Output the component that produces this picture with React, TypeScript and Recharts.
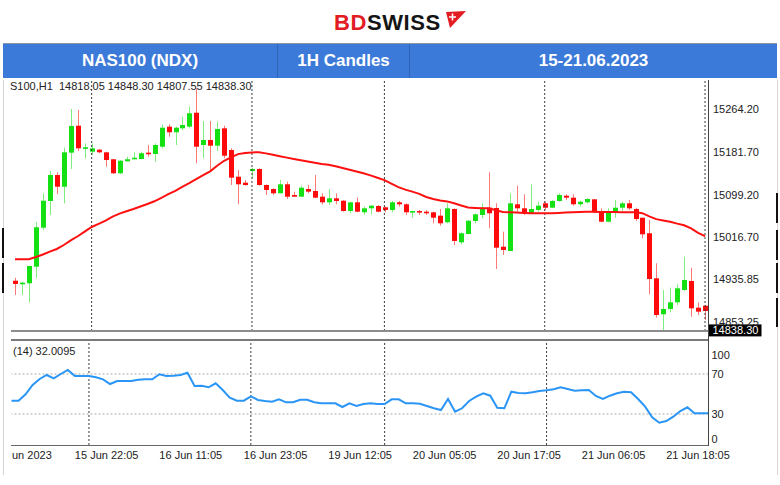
import React from "react";
import { ComposedChart, Bar, Line, XAxis, YAxis, ReferenceLine } from "recharts";

const FONT = "'Liberation Sans', Arial, sans-serif";

// NAS100 H1 candles, 15-21 Jun 2023
const opens = [
  14932.5, 14926.2, 14927.5, 14959.6, 15035.1, 15086.8, 15137.1, 15114.4, 15180.3, 15232.5,
  15188.7, 15182.2, 15186.0, 15181.0, 15167.5, 15140.4, 15163.6, 15168.0, 15168.0, 15180.3,
  15177.7, 15191.8, 15230.6, 15219.7, 15227.4, 15230.6, 15257.6, 15195.1, 15204.8, 15193.8,
  15227.4, 15185.4, 15133.8, 15122.2, 15144.8, 15148.7, 15117.7, 15110.0, 15101.7, 15119.1,
  15098.4, 15095.1, 15110.0, 15106.1, 15095.1, 15084.2, 15092.0, 15087.3, 15067.4, 15084.2,
  15064.9, 15072.6, 15077.1, 15074.6, 15069.4, 15084.2, 15080.4, 15064.9, 15067.4, 15066.1,
  15064.9, 15058.4, 15045.6, 15071.3, 15006.8, 15022.9, 15048.1, 15059.7, 15073.8, 15073.2,
  14998.3, 14990.0, 15080.4, 15072.6, 15063.0, 15069.4, 15082.3, 15073.8, 15086.8, 15097.0,
  15093.2, 15080.4, 15084.2, 15090.0, 15066.1, 15046.7, 15064.9, 15073.8, 15082.3, 15071.3,
  15054.4, 15024.3, 14937.2, 14867.5, 14877.8, 14890.7, 14914.6, 14932.0, 14880.3, 14884.1,
];
const highs = [
  14938.3, 14930.6, 14961.6, 15046.7, 15101.7, 15144.8, 15142.3, 15189.9, 15264.8, 15262.9,
  15198.4, 15198.4, 15187.4, 15182.2, 15168.0, 15166.1, 15172.5, 15181.0, 15182.2, 15195.1,
  15198.4, 15235.2, 15235.2, 15230.6, 15249.9, 15269.2, 15304.8, 15241.6, 15241.6, 15240.2,
  15232.5, 15188.7, 15146.8, 15127.4, 15151.2, 15150.1, 15119.1, 15111.3, 15127.4, 15124.1,
  15104.8, 15116.4, 15117.7, 15137.1, 15101.7, 15110.0, 15101.7, 15088.7, 15085.4, 15093.2,
  15075.8, 15079.0, 15079.0, 15075.8, 15086.8, 15086.8, 15082.3, 15067.4, 15069.4, 15069.4,
  15066.1, 15071.3, 15082.3, 15072.6, 15026.2, 15050.0, 15063.0, 15082.3, 15142.3, 15082.3,
  15027.4, 15101.7, 15116.4, 15099.7, 15119.1, 15085.4, 15085.4, 15088.7, 15101.7, 15099.7,
  15099.7, 15086.8, 15092.0, 15090.6, 15072.6, 15072.6, 15088.7, 15085.4, 15088.7, 15073.8,
  15054.4, 15050.0, 14966.2, 14914.6, 14919.0, 14925.6, 14979.0, 14957.7, 14890.7, 14885.5,
];
const lows = [
  14904.9, 14904.9, 14890.7, 14937.2, 15030.7, 15059.7, 15100.3, 15082.3, 15148.7, 15183.5,
  15169.4, 15175.8, 15179.1, 15153.1, 15139.0, 15139.0, 15162.8, 15167.5, 15167.5, 15172.5,
  15162.8, 15188.7, 15211.2, 15195.1, 15224.2, 15227.4, 15159.7, 15169.4, 15146.8, 15183.5,
  15169.4, 15117.7, 15080.4, 15116.4, 15130.7, 15116.4, 15098.4, 15098.4, 15101.7, 15090.6,
  15095.1, 15095.1, 15101.7, 15092.0, 15080.4, 15079.0, 15080.4, 15066.1, 15063.0, 15064.9,
  15059.7, 15061.0, 15064.9, 15064.9, 15064.9, 15075.8, 15059.7, 15054.4, 15059.7, 15059.7,
  15043.6, 15039.0, 15043.6, 15001.6, 15003.0, 15022.3, 15043.6, 15053.3, 15033.9, 14955.2,
  14982.3, 14990.0, 15066.1, 15059.7, 15063.0, 15066.1, 15069.4, 15073.8, 15085.4, 15088.7,
  15077.7, 15075.8, 15082.3, 15063.0, 15045.6, 15045.6, 15054.4, 15066.1, 15069.4, 15048.1,
  15014.6, 14906.2, 14861.0, 14832.7, 14871.4, 14885.5, 14912.6, 14862.9, 14866.2, 14856.5,
];
const closes = [
  14926.2, 14928.7, 14961.0, 15035.9, 15087.3, 15137.1, 15114.4, 15181.0, 15231.9, 15188.7,
  15190.7, 15188.7, 15181.0, 15166.1, 15140.4, 15164.7, 15167.5, 15170.5, 15179.1, 15178.4,
  15195.1, 15228.6, 15219.7, 15228.6, 15233.8, 15256.5, 15191.8, 15204.8, 15193.8, 15226.1,
  15174.4, 15131.9, 15119.1, 15117.7, 15148.7, 15117.7, 15108.1, 15101.7, 15119.1, 15095.1,
  15095.1, 15112.5, 15104.8, 15093.2, 15084.2, 15092.0, 15086.8, 15067.4, 15084.2, 15066.1,
  15072.6, 15077.7, 15066.1, 15069.4, 15084.2, 15080.4, 15064.9, 15067.4, 15064.9, 15063.6,
  15054.4, 15043.6, 15072.6, 15009.4, 15024.3, 15048.6, 15061.0, 15073.8, 15063.0, 14996.4,
  14991.9, 15082.3, 15072.6, 15063.0, 15071.3, 15077.7, 15073.8, 15086.8, 15098.4, 15093.2,
  15080.4, 15085.4, 15090.6, 15064.9, 15046.7, 15064.9, 15073.8, 15082.3, 15072.6, 15051.9,
  15022.3, 14935.8, 14866.2, 14877.8, 14890.7, 14917.8, 14933.9, 14879.1, 14872.6, 14873.9,
];
// moving average (red line)
const maValues = [
  14974.0, 14974.0, 14974.0, 14978.4, 14983.2, 14988.9, 14993.9, 15001.6, 15010.5, 15018.5,
  15027.5, 15036.5, 15042.6, 15048.8, 15056.6, 15062.4, 15067.0, 15071.3, 15076.1, 15080.9,
  15086.2, 15092.9, 15099.9, 15106.5, 15114.1, 15121.2, 15129.0, 15136.7, 15144.2, 15155.1,
  15164.6, 15171.3, 15177.5, 15179.6, 15180.8, 15181.0, 15178.9, 15176.2, 15173.4, 15170.7,
  15168.2, 15165.7, 15163.2, 15160.7, 15158.5, 15156.8, 15153.9, 15150.6, 15147.1, 15143.9,
  15140.6, 15136.3, 15131.7, 15127.2, 15120.4, 15113.7, 15108.8, 15104.9, 15100.5, 15094.5,
  15090.8, 15087.9, 15086.0, 15082.3, 15078.2, 15074.2, 15073.4, 15072.8, 15072.6, 15068.8,
  15065.5, 15064.9, 15064.3, 15063.6, 15063.0, 15063.0, 15063.0, 15063.0, 15063.7, 15064.5,
  15065.1, 15065.5, 15065.9, 15065.9, 15065.7, 15065.5, 15065.3, 15065.1, 15064.9, 15064.9,
  15063.2, 15057.0, 15051.7, 15049.2, 15046.5, 15043.0, 15039.7, 15033.7, 15025.2, 15018.6,
];
// RSI(14)
const rsiValues = [
  43.3, 43.3, 49.7, 59, 65, 69, 65.7, 70, 74, 68,
  68, 68, 66.7, 64.7, 60, 63, 63, 63, 64.3, 64.7,
  64.7, 69.7, 68, 68.3, 69, 71.3, 58, 58.3, 56.7, 60.7,
  54, 46.3, 43.3, 43.3, 47.7, 44, 43, 42.3, 44.7, 41.7,
  41.7, 44.3, 44.3, 41.7, 40.7, 40.7, 40.7, 37, 40.7, 38,
  40, 40.7, 40, 40, 44.7, 44.7, 40.7, 40.7, 40.3, 38,
  35.7, 34, 45, 32.3, 35.7, 43, 47.3, 50.7, 48.3, 36.3,
  35.7, 52.3, 51, 50.7, 51.7, 53, 53.7, 54.7, 56.7, 55,
  53.3, 53.7, 54, 48, 45, 48.3, 50.7, 52.3, 51.7, 45,
  37.3, 26.7, 21.3, 23, 27.3, 33, 36.7, 30.7, 30.7, 30.7,
];

const priceTicks = [15264.2, 15181.7, 15099.2, 15016.7, 14935.85, 14853.25];
const rsiTicks = [0, 30, 70, 100];
const rsiLevels = [30, 70];
const dayStarts = [11, 34, 53, 76, 99];
const timeTicks = [9, 21, 33, 45, 57, 69, 81, 93];
const timeLabels = [
  "15 Jun 22:05", "16 Jun 11:05", "16 Jun 23:05", "19 Jun 12:05",
  "20 Jun 05:05", "20 Jun 17:05", "21 Jun 06:05", "21 Jun 18:05",
];
const bidPrice = 14838.3;
// captions as far as they show at the left edge of the chart
const ohlcLine = "S100,H1  14818.05 14848.30 14807.55 14838.30";
const rsiTitle = "(14) 32.0095";
const firstDate = "un 2023";

const rows = opens.map((o, i) => ({
  i,
  o,
  h: highs[i],
  l: lows[i],
  c: closes[i],
  range: [lows[i], highs[i]],
  ma: maValues[i],
  rsi: rsiValues[i],
}));

function Candle(props: any) {
  const { x, y, width, height, payload } = props;
  if (x == null || y == null) return null;
  const { o, h, l, c } = payload;
  const top = Math.min(y, y + height);
  const span = Math.abs(height);
  const k = h === l ? 0 : span / (h - l);
  const cx = Math.round(x + width / 2) + 0.5;
  const bTop = top + (h - Math.max(o, c)) * k;
  const bBot = top + (h - Math.min(o, c)) * k;
  const color = c >= o ? "#14e014" : "#ff0a0a";
  return (
    <g>
      <line x1={cx} x2={cx} y1={top} y2={top + span} stroke={color} strokeOpacity={0.55} strokeWidth={1} />
      <rect x={cx - 2.5} y={bTop} width={5} height={Math.max(bBot - bTop, 1.6)} fill={color} />
    </g>
  );
}

const PriceTick = (p: any) => (
  <text x={p.x + 4.5} y={p.y} dy={4} fontSize={11} fill="#222" fontFamily={FONT}>
    {Number(p.payload.value).toFixed(2)}
  </text>
);

const RsiTick = (p: any) => {
  const v = p.payload.value;
  const dy = v === 100 ? 9 : v === 0 ? -1 : 4;
  return (
    <text x={p.x + 3} y={p.y} dy={dy} fontSize={11} fill="#222" fontFamily={FONT}>
      {v}
    </text>
  );
};

const TimeTick = (p: any) => {
  const idx = timeTicks.indexOf(p.payload.value);
  return (
    <text x={p.x} y={p.y} dy={14} fontSize={11} fill="#222" fontFamily={FONT} textAnchor="start">
      {timeLabels[idx]}
    </text>
  );
};

const BidLabel = (p: any) => {
  const vb = p.viewBox;
  if (!vb) return null;
  const bx = vb.x + vb.width;
  return (
    <g>
      <rect x={bx} y={vb.y - 5} width={53} height={12} fill="#000" />
      <text x={bx + 4} y={vb.y + 5} fontSize={11} fill="#fff" fontFamily={FONT}>
        {bidPrice.toFixed(2)}
      </text>
    </g>
  );
};

const line = (style: React.CSSProperties) => <div style={{ position: "absolute", ...style }} />;

const caption: React.CSSProperties = {
  position: "absolute",
  whiteSpace: "pre",
  fontSize: 11,
  lineHeight: "14px",
  color: "#222",
};

export default function App() {
  return (
    <div
      style={{
        position: "absolute",
        left: 0,
        top: 0,
        width: 780,
        height: 485,
        background: "#fff",
        overflow: "hidden",
        fontFamily: FONT,
      }}
    >
      {/* Logo */}
      <svg width={780} height={42} style={{ position: "absolute", left: 0, top: 0 }}>
        <text x={334} y={29.5} fontSize={22} fontWeight="bold" fontFamily={FONT} letterSpacing={0.6}>
          <tspan fill="#e31b23">BD</tspan>
          <tspan fill="#151515">SWISS</tspan>
        </text>
        <polygon points="446,12 466,11 450,28" fill="#e31b23" />
        <path d="M452.5 13.5 v7 M449 17 h7" stroke="#fff" strokeWidth={1.6} />
      </svg>

      {/* Header bar */}
      <div
        style={{
          position: "absolute",
          left: 3,
          top: 43,
          width: 774,
          height: 35,
          background: "#3c7ad9",
          borderTop: "1px solid #8a96a8",
          boxSizing: "border-box",
          color: "#fff",
          fontWeight: "bold",
          fontSize: 17,
        }}
      >
        {[
          { l: 0, w: 274, t: "NAS100 (NDX)" },
          { l: 274, w: 132, t: "1H Candles" },
          { l: 406, w: 368, t: "15-21.06.2023" },
        ].map((c, k) => (
          <div
            key={k}
            style={{
              position: "absolute",
              left: c.l,
              top: 0,
              width: c.w,
              height: 34,
              lineHeight: "34px",
              textAlign: "center",
              borderLeft: k ? "1px solid #2f63b5" : "none",
              boxSizing: "border-box",
            }}
          >
            {c.t}
          </div>
        ))}
      </div>

      {/* Price panel */}
      <div style={{ position: "absolute", left: 0, top: 80 }}>
        <ComposedChart width={780} height={260} data={rows} margin={{ top: 0, right: 0, bottom: 9, left: 11.5 }}>
          <XAxis dataKey="i" type="category" hide />
          <YAxis
            orientation="right"
            width={71.5}
            domain={[14835.2, 15320.9]}
            ticks={priceTicks}
            allowDataOverflow
            axisLine={false}
            tickLine={false}
            tickSize={0}
            tickMargin={0}
            tick={PriceTick}
          />
          {dayStarts.map((d) => (
            <ReferenceLine key={d} x={d} stroke="#3a3a3a" strokeDasharray="2 2" strokeWidth={1} />
          ))}
          <Bar dataKey="range" shape={Candle} isAnimationActive={false} />
          <Line dataKey="ma" type="linear" stroke="#ff1010" strokeWidth={2} dot={false} isAnimationActive={false} />
          <ReferenceLine y={bidPrice} stroke="none" label={BidLabel} />
        </ComposedChart>
      </div>

      {/* RSI panel */}
      <div style={{ position: "absolute", left: 0, top: 341 }}>
        <ComposedChart width={780} height={134} data={rows} margin={{ top: 0, right: 0, bottom: 0, left: 11.5 }}>
          <XAxis
            dataKey="i"
            type="category"
            ticks={timeTicks}
            interval={0}
            height={30}
            axisLine={false}
            tickLine={false}
            tickSize={0}
            tickMargin={0}
            tick={TimeTick}
          />
          <YAxis
            orientation="right"
            width={71.5}
            domain={[-1, 103]}
            ticks={rsiTicks}
            allowDataOverflow
            axisLine={false}
            tickLine={false}
            tickSize={0}
            tickMargin={0}
            tick={RsiTick}
          />
          {rsiLevels.map((v) => (
            <ReferenceLine key={v} y={v} stroke="#a8a8a8" strokeDasharray="2 2" strokeWidth={1} />
          ))}
          {dayStarts.map((d) => (
            <ReferenceLine key={d} x={d} stroke="#3a3a3a" strokeDasharray="2 2" strokeWidth={1} />
          ))}
          <Line dataKey="rsi" type="linear" stroke="#2b95f5" strokeWidth={2} dot={false} isAnimationActive={false} />
        </ComposedChart>
      </div>

      {/* panel frame */}
      {line({ left: 11, top: 330, width: 697, height: 2, background: "#8c8c8c" })}
      {line({ left: 11, top: 339, width: 697, height: 2, background: "#7a7a7a" })}
      {line({ left: 11, top: 445, width: 697, height: 1, background: "#666" })}
      {line({ left: 708, top: 80, width: 1, height: 366, background: "#444" })}

      {/* screenshot edges */}
      {line({ left: 3, top: 80, width: 1, height: 395, background: "#d6d6d6" })}
      {line({ left: 2, top: 228, width: 2, height: 30, background: "#111" })}
      {line({ left: 2, top: 263, width: 2, height: 30, background: "#111" })}
      {line({ left: 777, top: 80, width: 1, height: 395, background: "#d6d6d6" })}
      {line({ left: 776, top: 193, width: 2, height: 30, background: "#111" })}
      {line({ left: 776, top: 230, width: 2, height: 30, background: "#111" })}
      {line({ left: 776, top: 263, width: 2, height: 30, background: "#111" })}
      {line({ left: 776, top: 298, width: 2, height: 29, background: "#111" })}

      {/* chart captions */}
      <div style={{ ...caption, left: 10, top: 79 }}>{ohlcLine}</div>
      <div style={{ ...caption, left: 13, top: 344 }}>{rsiTitle}</div>
      <div style={{ ...caption, left: 12, top: 448 }}>{firstDate}</div>
    </div>
  );
}
